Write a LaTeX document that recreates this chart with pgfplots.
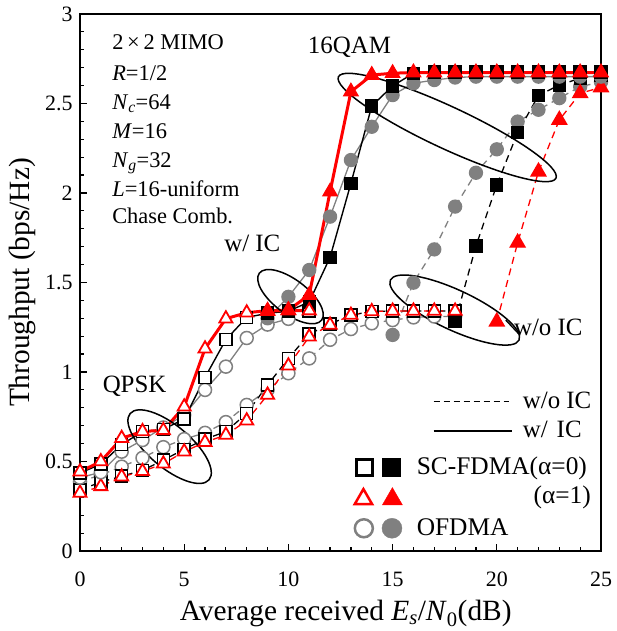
\documentclass[border=0pt]{standalone}
\usepackage{pgfplots}
\pgfplotsset{compat=1.18}
\usepackage{fontspec}
\setmainfont{Liberation Serif}
\usetikzlibrary{shapes.geometric}
\definecolor{ofgray}{RGB}{128,128,128}
\definecolor{scred}{RGB}{255,0,0}

\begin{document}
\begin{tikzpicture}
\begin{axis}[
  scale only axis, width=521bp, height=537bp,
  xmin=0, xmax=25, ymin=0, ymax=3,
  xtick={0,5,10,15,20,25}, ytick={0,0.5,1,1.5,2,2.5,3},
  minor x tick num=4, minor y tick num=4,
  tick pos=left, tick align=inside,
  major tick length=7bp, minor tick length=4.5bp,
  tick style={black, line width=1.2bp},
  axis line style={line width=1.8bp},
  ticklabel style={font=\fontsize{22}{22}\selectfont},
  /pgf/number format/assume math mode=true,
  xticklabel style={yshift=-20bp, inner sep=1bp},
  yticklabel style={xshift=-4bp},
  xlabel={Average received \textit{E}\textsubscript{\textit{s}}/\textit{N}\textsubscript{0}(dB)},
  ylabel={Throughput (bps/Hz)},
  label style={font=\fontsize{29.5}{29.5}\selectfont},
  xlabel style={at={(axis description cs:0.51,-0.117)}, anchor=center, inner sep=0pt},
  ylabel style={at={(axis description cs:-0.111,0.5)}, anchor=center},
  clip=false,
]

%% ---------------- w/o IC (dashed) ----------------
% OFDMA QPSK
\addplot[ofgray, line width=1.3bp, dash pattern=on 7bp off 5bp, mark=*, mark size=6.5bp,
  mark options={solid, fill=white, line width=1.5bp}] coordinates {
  (0,0.387)(1,0.425)(2,0.471)(3,0.520)(4,0.580)(5,0.625)(6,0.660)(7,0.720)(8,0.816)
  (9,0.900)(10,0.993)(11,1.076)(12,1.180)(13,1.240)(14,1.272)(15,1.290)(16,1.305)
  (17,1.310)(18,1.310)
};
% OFDMA 16QAM
\addplot[ofgray, line width=1.3bp, dash pattern=on 7bp off 5bp, mark=*, mark size=6.5bp,
  mark options={solid, fill=ofgray}] coordinates {
  (15,1.207)(16,1.499)(17,1.685)(18,1.924)(19,2.113)(20,2.244)(21,2.399)(22,2.465)
  (23,2.530)(24,2.594)(25,2.620)
};
% SC-FDMA alpha=0 QPSK
\addplot[black, line width=1.3bp, dash pattern=on 7bp off 5bp, mark=square*, mark size=6bp,
  mark options={solid, fill=white, line width=1.5bp}] coordinates {
  (0,0.341)(1,0.385)(2,0.418)(3,0.450)(4,0.508)(5,0.568)(6,0.625)(7,0.667)(8,0.769)
  (9,0.927)(10,1.076)(11,1.212)(12,1.268)(13,1.318)(14,1.338)(15,1.341)(16,1.341)
  (17,1.341)(18,1.341)
};
% SC-FDMA alpha=0 16QAM
\addplot[black, line width=1.3bp, dash pattern=on 7bp off 5bp, mark=square*, mark size=6bp,
  mark options={solid, fill=black}] coordinates {
  (18,1.281)(19,1.704)(20,2.045)(21,2.337)(22,2.545)(23,2.603)(24,2.641)(25,2.659)
};
% SC-FDMA alpha=1 QPSK
\addplot[scred, line width=1.3bp, dash pattern=on 7bp off 5bp, mark=triangle*, mark size=7.5bp,
  mark options={solid, fill=white, line width=1.8bp}] coordinates {
  (0,0.324)(1,0.361)(2,0.415)(3,0.445)(4,0.487)(5,0.555)(6,0.608)(7,0.648)(8,0.728)
  (9,0.872)(10,1.035)(11,1.197)(12,1.263)(13,1.318)(14,1.338)(15,1.341)(16,1.341)
  (17,1.341)(18,1.341)
};
% SC-FDMA alpha=1 16QAM
\addplot[scred, line width=1.3bp, dash pattern=on 7bp off 5bp, mark=triangle*, mark size=8.5bp,
  mark options={solid, fill=scred}] coordinates {
  (20,1.281)(21,1.722)(22,2.119)(23,2.408)(24,2.557)(25,2.590)
};

%% ---------------- w/ IC (solid) ----------------
% OFDMA QPSK
\addplot[ofgray, line width=1.3bp, mark=*, mark size=6.5bp,
  mark options={fill=white, line width=1.5bp}] coordinates {
  (0,0.410)(1,0.440)(2,0.555)(3,0.620)(4,0.690)(5,0.760)(6,0.900)(7,1.030)(8,1.190)
  (9,1.265)(10,1.297)
};
% OFDMA 16QAM
\addplot[ofgray, line width=1.3bp, mark=*, mark size=6.5bp,
  mark options={fill=ofgray}] coordinates {
  (9,1.300)(10,1.420)(11,1.570)(12,1.868)(13,2.184)(14,2.370)(15,2.547)(16,2.613)
  (17,2.631)(18,2.645)(19,2.650)(20,2.650)(21,2.650)(22,2.650)(23,2.650)(24,2.650)(25,2.650)
};
% SC-FDMA alpha=0 QPSK
\addplot[black, line width=1.4bp, mark=square*, mark size=6bp,
  mark options={fill=white, line width=1.5bp}] coordinates {
  (0,0.436)(1,0.485)(2,0.595)(3,0.667)(4,0.680)(5,0.737)(6,0.970)(7,1.181)(8,1.305)
  (9,1.328)(10,1.340)(11,1.340)
};
% SC-FDMA alpha=0 16QAM
\addplot[black, line width=1.4bp, mark=square*, mark size=6bp,
  mark options={fill=black}] coordinates {
  (9,1.330)(10,1.340)(11,1.391)(12,1.641)(13,2.054)(14,2.486)(15,2.598)(16,2.669)
  (17,2.675)(18,2.675)(19,2.675)(20,2.675)(21,2.675)(22,2.675)(23,2.675)(24,2.675)(25,2.675)
};
% SC-FDMA alpha=1 QPSK
\addplot[scred, line width=3bp, mark=triangle*, mark size=7.5bp,
  mark options={fill=white, line width=1.8bp}] coordinates {
  (0,0.443)(1,0.500)(2,0.630)(3,0.668)(4,0.674)(5,0.806)(6,1.130)(7,1.298)(8,1.331)
  (9,1.343)(10,1.343)(11,1.343)
};
% SC-FDMA alpha=1 16QAM
\addplot[scred, line width=3bp, mark=triangle*, mark size=8.5bp,
  mark options={fill=scred, line width=1bp}] coordinates {
  (9,1.340)(10,1.346)(11,1.430)(12,2.007)(13,2.566)(14,2.659)(15,2.669)(16,2.673)
  (17,2.673)(18,2.673)(19,2.673)(20,2.673)(21,2.673)(22,2.673)(23,2.673)(24,2.673)(25,2.673)
};

%% thicker left and bottom axis lines
\draw[line width=2.6bp] (rel axis cs:0,1) -- (rel axis cs:0,0) -- (rel axis cs:1,0);

%% ---------------- annotations ----------------
\node[draw, ellipse, line width=1.5bp, inner sep=0pt, minimum width=103bp, minimum height=42bp, rotate=-40]
  at (axis cs:4.30,0.583) {};
\node[draw, ellipse, line width=1.5bp, inner sep=0pt, minimum width=78bp, minimum height=34bp, rotate=-37]
  at (axis cs:10.10,1.421) {};
\node[draw, ellipse, line width=1.5bp, inner sep=0pt, minimum width=240bp, minimum height=42bp, rotate=-25]
  at (axis cs:17.62,2.366) {};
\node[draw, ellipse, line width=1.5bp, inner sep=0pt, minimum width=142bp, minimum height=40bp, rotate=-25]
  at (axis cs:17.98,1.346) {};
\draw[line width=1.3bp] (axis cs:20.43,1.290) -- (axis cs:21.06,1.212);

\node[font=\fontsize{25}{25}\selectfont] at (axis cs:2.62,0.918) {QPSK};
\node[font=\fontsize{25}{25}\selectfont] at (axis cs:8.27,1.721) {w/ IC};
\node[font=\fontsize{25}{25}\selectfont] at (axis cs:12.93,2.816) {16QAM};
\node[font=\fontsize{25}{25}\selectfont, anchor=west, inner sep=0pt] at (axis cs:20.82,1.251) {w/o IC};

%% ---------------- parameter box ----------------
\begin{scope}[every node/.style={anchor=base west, inner sep=0pt, font=\fontsize{22.5}{22.5}\selectfont}]
\node at (axis cs:1.54,2.799) {2\,×\,2 MIMO};
\node at (axis cs:1.54,2.631) {\textit{R}=1/2};
\node at (axis cs:1.54,2.469) {\textit{N}\textsubscript{\textit{c}}=64};
\node at (axis cs:1.54,2.307) {\textit{M}=16};
\node at (axis cs:1.54,2.145) {\textit{N}\textsubscript{\textit{g}}=32};
\node at (axis cs:1.54,1.983) {\textit{L}=16-uniform};
\node at (axis cs:1.54,1.832) {Chase Comb.};
\end{scope}

%% ---------------- legend ----------------
\addplot[black, line width=1.5bp, dash pattern=on 6bp off 4bp, forget plot] coordinates {(16.97,0.834)(20.58,0.834)};
\addplot[black, line width=2bp, forget plot] coordinates {(16.97,0.672)(20.73,0.672)};
\node[font=\fontsize{25}{25}\selectfont, anchor=west, inner sep=0pt] at (axis cs:21.24,0.844) {w/o IC};
\node[font=\fontsize{25}{25}\selectfont, anchor=west, inner sep=0pt] at (axis cs:21.24,0.682) {w/\hspace{9bp}IC};

\addplot[only marks, black, mark=square*, mark size=8bp, mark options={fill=white, line width=2.5bp}] coordinates {(13.65,0.466)};
\addplot[only marks, black, mark=square*, mark size=9bp, mark options={fill=black}] coordinates {(14.95,0.466)};
\addplot[only marks, scred, mark=triangle*, mark size=10bp, mark options={fill=white, line width=2.5bp}] coordinates {(13.60,0.290)};
\addplot[only marks, scred, mark=triangle*, mark size=11.5bp, mark options={fill=scred}] coordinates {(14.99,0.290)};
\addplot[only marks, ofgray, mark=*, mark size=9bp, mark options={fill=white, line width=2.5bp}] coordinates {(13.62,0.127)};
\addplot[only marks, ofgray, mark=*, mark size=10bp, mark options={fill=ofgray}] coordinates {(14.97,0.127)};

\node[font=\fontsize{25.5}{25.5}\selectfont, anchor=west, inner sep=0pt] at (axis cs:16.15,0.464) {SC-FDMA(α=0)};
\node[font=\fontsize{25.5}{25.5}\selectfont, anchor=east, inner sep=0pt] at (axis cs:24.52,0.302) {(α=1)};
\node[font=\fontsize{25.5}{25.5}\selectfont, anchor=west, inner sep=0pt] at (axis cs:16.15,0.134) {OFDMA};

\end{axis}
\pgfresetboundingbox
\path[use as bounding box] (-80bp,-80bp) rectangle (537bp,551bp);
\end{tikzpicture}
\end{document}
